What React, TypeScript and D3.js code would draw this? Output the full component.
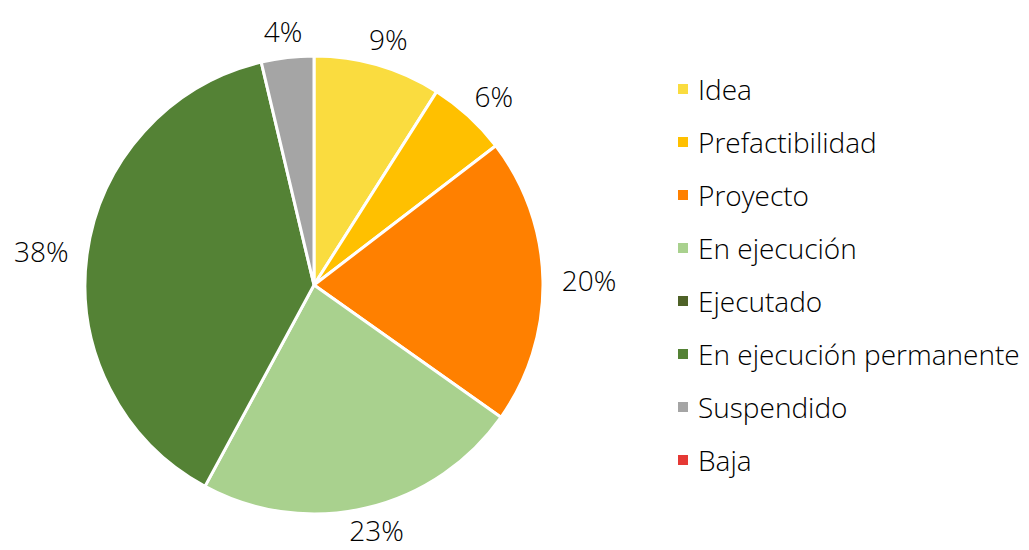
import React from "react";
import * as d3 from "d3";

const categories = ["Idea", "Prefactibilidad", "Proyecto", "En ejecución", "Ejecutado", "En ejecución permanente", "Suspendido", "Baja"];
const values = [9.0, 5.6, 20.2, 23.1, 0, 38.4, 3.7, 0];
const colors = ["#FADC3F", "#FFC000", "#FF8000", "#A9D18E", "#4F6228", "#548235", "#A5A5A5", "#E53935"];

const W = 1029, H = 550;
const cx = 314, cy = 285, R = 229;
const FONT = "'Open Sans', 'Noto Sans', sans-serif";
const FS = 28;

export default function App() {
  const total = d3.sum(values);
  const pie = d3.pie<number>().sort(null).value((d) => d);
  const arcs = pie(values);
  const arcGen = d3.arc<d3.PieArcDatum<number>>().innerRadius(0).outerRadius(R);
  const legendY = d3.scalePoint<string>().domain(categories).range([89, 460]);

  return (
    <svg width={W} height={H} style={{ position: "absolute", left: 0, top: 0, background: "#fff" }} fontFamily={FONT}>
      <g transform={`translate(${cx},${cy})`}>
        {arcs.map((a, i) =>
          a.value > 0 ? (
            <path key={i} d={arcGen(a) || ""} fill={colors[i]} stroke="#fff" strokeWidth={3} strokeLinejoin="round" />
          ) : null
        )}
        {arcs.map((a, i) => {
          if (a.value <= 0) return null;
          const mid = (a.startAngle + a.endAngle) / 2;
          const s = Math.sin(mid), c = Math.cos(mid);
          const label = `${Math.round((a.value / total) * 100)}%`;
          const halfW = label.length * FS * 0.31;
          const x = s * (R + 20) + s * halfW;
          let y = -c * (R + 17) - c * 10;
          y = Math.min(y, H - cy - FS * 0.72);
          y = Math.max(y, -cy + FS * 0.72);
          return (
            <text key={"l" + i} x={x} y={y} textAnchor="middle" dominantBaseline="central" fontSize={FS} fontWeight={300} fill="#000">
              {label}
            </text>
          );
        })}
      </g>
      {categories.map((name, i) => (
        <g key={"lg" + i} transform={`translate(678,${legendY(name)})`}>
          <rect x={0} y={-5} width={10} height={10} fill={colors[i]} />
          <text x={20} y={0} dominantBaseline="central" fontSize={FS} fontWeight={300} fill="#000">
            {name}
          </text>
        </g>
      ))}
    </svg>
  );
}
